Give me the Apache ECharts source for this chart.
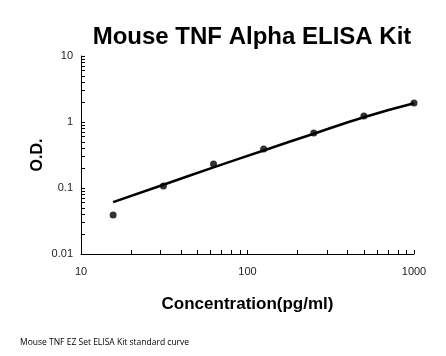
<!DOCTYPE html>
<html><head><meta charset="utf-8">
<script src="https://cdn.jsdelivr.net/npm/echarts@6/dist/echarts.min.js"></script>
<style>html,body{margin:0;padding:0;background:#fff}#c{width:446px;height:356px}</style>
</head><body><div id="c"></div>
<script>
var concentrations = [15.6, 31.25, 62.5, 125, 250, 500, 1000];
var odValues = [0.039, 0.107, 0.231, 0.39, 0.68, 1.23, 1.94];
var curveX = [15.6, 31.25, 62.5, 125, 250, 500, 1000];
var curveY = [0.061, 0.112, 0.205, 0.37, 0.665, 1.18, 1.92];
var xTickValues = [10,20,30,40,50,60,70,80,90,100,200,300,400,500,600,700,800,900,1000];
var yTickValues = [0.01,0.02,0.03,0.04,0.05,0.06,0.07,0.08,0.09,0.1,0.2,0.3,0.4,0.5,0.6,0.7,0.8,0.9,1,2,3,4,5,6,7,8,9,10];
var xLabels = [10, 100, 1000];
var yLabels = [0.01, 0.1, 1, 10];

var chart = echarts.init(document.getElementById('c'));
var font = 'Liberation Sans, Arial, sans-serif';
chart.setOption({
  animation: false,
  title: [{
    text: 'Mouse TNF Alpha ELISA Kit', left: 247, top: 20, textAlign: 'center',
    textStyle: {fontFamily: font, fontSize: 24, fontWeight: 'bold', color: '#000'}
  }, {
    text: 'Mouse TNF EZ Set ELISA Kit standard curve', left: 15, top: 333,
    textStyle: {fontFamily: 'Open Sans, sans-serif', fontSize: 8.5, fontWeight: 'normal', color: '#000'}
  }],
  grid: {left: 81, right: 32, top: 56, bottom: 102},
  xAxis: {
    type: 'log', logBase: 10, min: 10, max: 1000,
    name: 'Concentration(pg/ml)', nameLocation: 'middle', nameGap: 42,
    nameTextStyle: {fontFamily: font, fontSize: 17, fontWeight: 'bold', color: '#000'},
    axisLine: {lineStyle: {color: '#000', width: 1}},
    axisTick: {inside: true, length: 4, lineStyle: {color: '#000'}, customValues: xTickValues},
    axisLabel: {customValues: xLabels, fontFamily: font, fontSize: 11, color: '#222', margin: 12,
      formatter: function(v){ return String(v); }},
    splitLine: {show: false}
  },
  yAxis: {
    type: 'log', logBase: 10, min: 0.01, max: 10,
    name: 'O.D.', nameLocation: 'middle', nameGap: 35, nameRotate: 90, nameMoveOverlap: false,
    nameTextStyle: {fontFamily: font, fontSize: 16, fontWeight: 'bold', color: '#000'},
    axisLine: {show: true, lineStyle: {color: '#000', width: 1}},
    axisTick: {show: true, inside: true, length: 4, lineStyle: {color: '#000'}, customValues: yTickValues},
    axisLabel: {customValues: yLabels, fontFamily: font, fontSize: 11, color: '#222', margin: 8,
      formatter: function(v){ return String(v); }},
    splitLine: {show: false}
  },
  series: [{
    type: 'line', smooth: true, symbol: 'none',
    data: curveX.map(function(x, i){ return [x, curveY[i]]; }),
    lineStyle: {color: '#000', width: 2.5}, z: 2
  }, {
    type: 'scatter', symbolSize: 7,
    data: concentrations.map(function(x, i){ return [x, odValues[i]]; }),
    itemStyle: {color: '#000'}, z: 3
  }]
});
</script></body></html>
